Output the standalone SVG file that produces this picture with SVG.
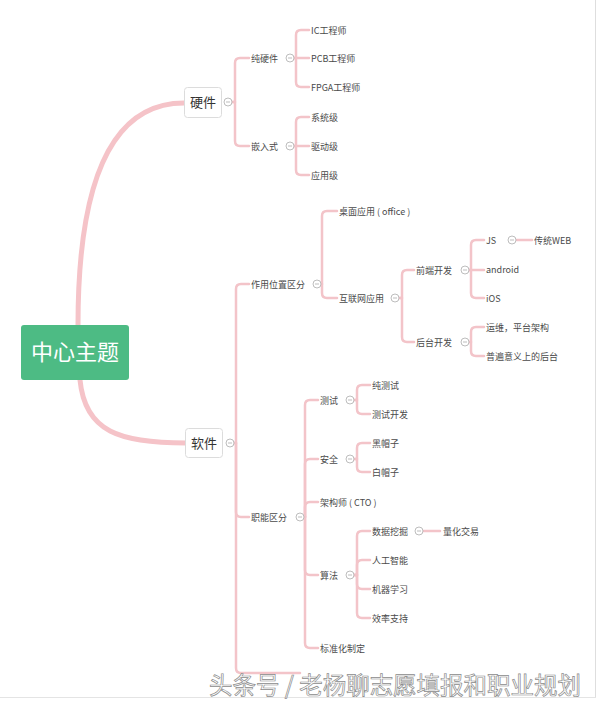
<svg xmlns="http://www.w3.org/2000/svg" width="600" height="708" viewBox="0 0 600 708">
<style>
.t{font-family:"Noto Sans CJK SC","Noto Sans",sans-serif;font-size:9px;fill:#4a4a4a}
.c{fill:none;stroke:#f3c4c9;stroke-width:2.5;stroke-linecap:round;stroke-linejoin:round}
.thick{fill:none;stroke:#f5c3c8;stroke-width:5;stroke-linecap:round}
.box{fill:#fff;stroke:#dcdcdc;stroke-width:1}
.bt{font-family:"Noto Sans CJK SC","Noto Sans",sans-serif;font-size:13px;fill:#333}
</style>
<defs>
<g id="tog"><circle r="4" fill="#fff" stroke="#b5b5b5" stroke-width="0.9"/><line x1="-2" y1="0" x2="2" y2="0" stroke="#b5b5b5" stroke-width="0.9"/></g>
</defs>
<rect width="600" height="708" fill="#fff"/>
<line x1="595.5" y1="0" x2="595.5" y2="697" stroke="#dedede"/>
<line x1="0" y1="697.5" x2="596" y2="697.5" stroke="#e4e4e4"/>
<g id="connectors">
<path class="thick" d="M78,325 C78,180 112,103 184,103"/>
<path class="thick" d="M80,380 C85,432 120,443 186,443"/>
<path class="c" d="M232,102 H235 V63 Q235,58 240,58 H249"/>
<path class="c" d="M232,102 H235 V141 Q235,146 240,146 H249"/>
<path class="c" d="M294,58 H296 V35 Q296,30 301,30 H309"/>
<path class="c" d="M294,58 H309"/>
<path class="c" d="M294,58 H296 V82 Q296,87 301,87 H309"/>
<path class="c" d="M294,146 H296 V122 Q296,117 301,117 H309"/>
<path class="c" d="M294,146 H309"/>
<path class="c" d="M294,146 H296 V170 Q296,175 301,175 H309"/>
<path class="c" d="M234,443 H236 V289 Q236,284 241,284 H249"/>
<path class="c" d="M234,443 H236 V512 Q236,517 241,517 H249"/>
<path class="c" d="M234,443 H236 V668 Q236,673 241,673 H300"/>
<path class="c" d="M321,284 H322 V216 Q322,211 327,211 H337"/>
<path class="c" d="M321,284 H322 V293 Q322,298 327,298 H337"/>
<path class="c" d="M399,298 H402 V275 Q402,270 407,270 H414"/>
<path class="c" d="M399,298 H402 V337 Q402,342 407,342 H414"/>
<path class="c" d="M469,270 H471 V245 Q471,240 476,240 H484"/>
<path class="c" d="M469,270 H484"/>
<path class="c" d="M469,270 H471 V293 Q471,298 476,298 H484"/>
<path class="c" d="M516,240 H532"/>
<path class="c" d="M469,342 H471 V332 Q471,327 476,327 H484"/>
<path class="c" d="M469,342 H471 V351 Q471,356 476,356 H484"/>
<path class="c" d="M304,517 H305 V405 Q305,400 310,400 H318"/>
<path class="c" d="M304,517 H305 V464 Q305,459 310,459 H318"/>
<path class="c" d="M304,517 H305 V507 Q305,502 310,502 H318"/>
<path class="c" d="M304,517 H305 V570 Q305,575 310,575 H318"/>
<path class="c" d="M304,517 H305 V643 Q305,648 310,648 H318"/>
<path class="c" d="M354,400 H357 V390 Q357,385 362,385 H370"/>
<path class="c" d="M354,400 H357 V409 Q357,414 362,414 H370"/>
<path class="c" d="M354,459 H357 V448 Q357,443 362,443 H370"/>
<path class="c" d="M354,459 H357 V467 Q357,472 362,472 H370"/>
<path class="c" d="M354,575 H357 V536 Q357,531 362,531 H370"/>
<path class="c" d="M354,575 H357 V565 Q357,560 362,560 H370"/>
<path class="c" d="M354,575 H357 V584 Q357,589 362,589 H370"/>
<path class="c" d="M354,575 H357 V613 Q357,618 362,618 H370"/>
<path class="c" d="M423,531 H440"/>
</g>
<g id="center">
<rect x="21" y="325" width="108" height="55" rx="3" fill="#4dbb84"/>
<text x="75" y="360" text-anchor="middle" font-family="'Noto Sans CJK SC','Noto Sans',sans-serif" font-size="22" fill="#fff">中心主题</text>
</g>
<g id="hardware">
<rect class="box" x="184.5" y="87.5" width="37" height="30" rx="3"/>
<text class="bt" x="203" y="107" text-anchor="middle">硬件</text>
</g>
<g id="software">
<rect class="box" x="185.5" y="428.5" width="37" height="29" rx="3"/>
<text class="bt" x="204" y="448" text-anchor="middle">软件</text>
</g>
<g id="n-chunyingjian"><text class="t" x="251" y="61.5">纯硬件</text></g>
<g id="n-qianrushi"><text class="t" x="251" y="149.5">嵌入式</text></g>
<g id="n-ic"><text class="t" x="311" y="33.5">IC工程师</text></g>
<g id="n-pcb"><text class="t" x="311" y="61.5">PCB工程师</text></g>
<g id="n-fpga"><text class="t" x="311" y="90.5">FPGA工程师</text></g>
<g id="n-xitong"><text class="t" x="311" y="120.5">系统级</text></g>
<g id="n-qudong"><text class="t" x="311" y="149.5">驱动级</text></g>
<g id="n-yingyong"><text class="t" x="311" y="178.5">应用级</text></g>
<g id="n-zuoyong"><text class="t" x="251" y="287.5">作用位置区分</text></g>
<g id="n-zhuomian"><text class="t" x="339" y="214.5">桌面应用 ( office )</text></g>
<g id="n-hulianwang"><text class="t" x="339" y="301.5">互联网应用</text></g>
<g id="n-qianduan"><text class="t" x="416" y="273.5">前端开发</text></g>
<g id="n-houtai"><text class="t" x="416" y="345.5">后台开发</text></g>
<g id="n-js"><text class="t" x="486" y="243.5">JS</text></g>
<g id="n-web"><text class="t" x="534" y="243.5">传统WEB</text></g>
<g id="n-android"><text class="t" x="486" y="272.5">android</text></g>
<g id="n-ios"><text class="t" x="486" y="301.5">iOS</text></g>
<g id="n-yunwei"><text class="t" x="486" y="330.5">运维，平台架构</text></g>
<g id="n-pubian"><text class="t" x="486" y="359.5">普遍意义上的后台</text></g>
<g id="n-zhineng"><text class="t" x="251" y="520.5">职能区分</text></g>
<g id="n-ceshi"><text class="t" x="320" y="403.5">测试</text></g>
<g id="n-chunceshi"><text class="t" x="372" y="388.5">纯测试</text></g>
<g id="n-ceshikaifa"><text class="t" x="372" y="417.5">测试开发</text></g>
<g id="n-anquan"><text class="t" x="320" y="462.5">安全</text></g>
<g id="n-heimao"><text class="t" x="372" y="446.5">黑帽子</text></g>
<g id="n-baimao"><text class="t" x="372" y="475.5">白帽子</text></g>
<g id="n-jiagou"><text class="t" x="320" y="505.5">架构师 ( CTO )</text></g>
<g id="n-suanfa"><text class="t" x="320" y="578.5">算法</text></g>
<g id="n-shuju"><text class="t" x="372" y="534.5">数据挖掘</text></g>
<g id="n-lianghua"><text class="t" x="443" y="534.5">量化交易</text></g>
<g id="n-rengong"><text class="t" x="372" y="563.5">人工智能</text></g>
<g id="n-jiqi"><text class="t" x="372" y="592.5">机器学习</text></g>
<g id="n-xiaolv"><text class="t" x="372" y="621.5">效率支持</text></g>
<g id="n-biaozhun"><text class="t" x="320" y="651.5">标准化制定</text></g>
<g id="toggles">
<use href="#tog" x="228" y="102"/>
<use href="#tog" x="230" y="443"/>
<use href="#tog" x="290" y="58"/>
<use href="#tog" x="290" y="146"/>
<use href="#tog" x="317" y="284"/>
<use href="#tog" x="395" y="298"/>
<use href="#tog" x="465" y="270"/>
<use href="#tog" x="465" y="342"/>
<use href="#tog" x="512" y="240"/>
<use href="#tog" x="300" y="517"/>
<use href="#tog" x="350" y="400"/>
<use href="#tog" x="350" y="459"/>
<use href="#tog" x="350" y="575"/>
<use href="#tog" x="419" y="531"/>
</g>
<g id="watermark">
<text x="209" y="694" font-family="'Noto Sans CJK SC',sans-serif" font-size="24" fill="#fff" stroke="#8a8a8a" stroke-width="0.7" textLength="372" lengthAdjust="spacingAndGlyphs">头条号 / 老杨聊志愿填报和职业规划</text>
</g>
</svg>
